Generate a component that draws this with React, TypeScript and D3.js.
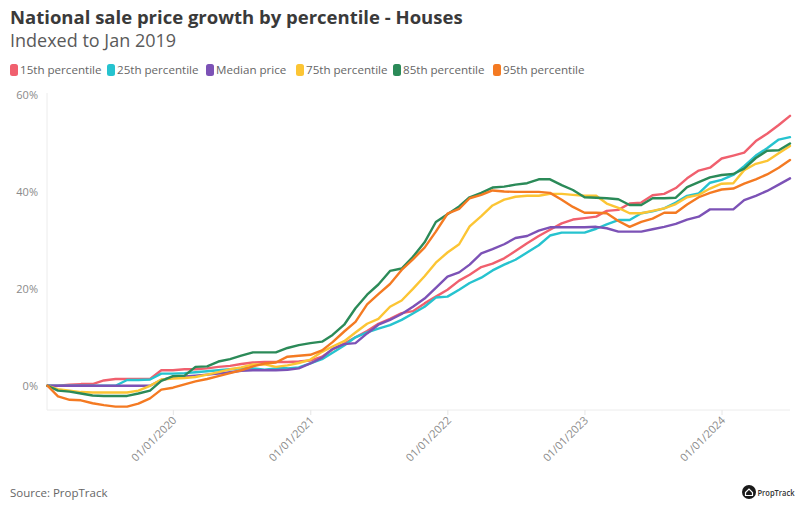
import React from 'react';
import * as d3 from 'd3';

const seriesNames = ['15th percentile', '25th percentile', 'Median price', '75th percentile', '85th percentile', '95th percentile'];
const seriesColors = ['#f0606e', '#26c3cf', '#7c52b6', '#fcc534', '#2b8a58', '#f47a22'];

// Month-end observations, Jan 2019 .. Jun 2024 (percent change since Jan 2019)
const p15 = [0, 0, 0.2, 0.35, 0.35, 1.1, 1.4, 1.4, 1.4, 1.4, 3.2, 3.2,
  3.4, 3.4, 3.6, 3.9, 4.1, 4.5, 4.8, 4.9, 4.9, 4.9, 5.0, 5.2,
  6.0, 7.5, 8.7, 10.0, 11.3, 12.8, 13.8, 15.0, 15.4, 17.0, 18.4, 19.8,
  21.7, 22.9, 24.5, 25.2, 26.3, 27.8, 29.4, 30.9, 32.2, 33.5, 34.3, 34.6,
  34.9, 36.1, 36.3, 37.6, 37.8, 39.3, 39.6, 40.8, 42.8, 44.4, 45.0, 46.9,
  47.5, 48.1, 50.5, 52.0, 53.8, 55.7];
const p25 = [0, 0, 0, 0, 0, 0, 0, 1.2, 1.2, 1.3, 2.5, 2.5,
  2.6, 2.8, 3.0, 3.2, 3.4, 3.6, 3.6, 3.3, 3.6, 3.6, 3.8, 4.6,
  5.5, 6.8, 8.3, 10.0, 11.0, 11.8, 12.5, 13.6, 14.9, 16.3, 18.2, 18.4,
  19.8, 21.2, 22.3, 23.8, 25.0, 26.0, 27.5, 29.0, 31.0, 31.6, 31.6, 31.6,
  32.4, 33.3, 34.2, 34.2, 35.6, 36.0, 36.6, 37.8, 39.2, 39.7, 41.9, 42.5,
  43.5, 45.3, 47.5, 49.0, 50.8, 51.3];
const median = [0, 0, 0, 0, 0, 0, 0, 0, 0, 0, 1.2, 1.7,
  1.9, 2.1, 2.3, 2.5, 2.8, 3.1, 3.2, 3.2, 3.2, 3.3, 3.6, 4.6,
  5.8, 7.6, 8.6, 8.8, 10.8, 12.6, 13.6, 14.8, 16.3, 18.0, 20.2, 22.5,
  23.4, 25.0, 27.3, 28.2, 29.2, 30.5, 30.9, 32.0, 32.7, 32.7, 32.7, 32.7,
  32.8, 32.5, 31.8, 31.8, 31.8, 32.3, 32.8, 33.4, 34.3, 34.9, 36.4, 36.4,
  36.4, 38.3, 39.2, 40.2, 41.5, 42.8];
const p75 = [0, -0.7, -1.0, -1.3, -1.4, -1.4, -1.4, -1.4, -1.0, 0.0, 1.3, 1.5,
  1.6, 1.8, 2.3, 2.8, 3.4, 3.8, 4.4, 4.4, 3.9, 4.2, 4.7, 5.4,
  7.0, 8.1, 9.2, 11.0, 12.8, 13.8, 16.3, 17.6, 20.0, 22.6, 25.4, 27.5,
  29.2, 32.9, 35.0, 37.2, 38.4, 39.0, 39.2, 39.2, 39.6, 39.6, 39.4, 39.2,
  39.2, 37.6, 36.7, 35.6, 35.6, 36.1, 36.6, 37.5, 38.9, 39.4, 40.7, 41.7,
  41.8, 44.5, 45.8, 46.4, 48.0, 49.5];
const p85 = [0, -1.0, -1.2, -1.6, -2.0, -2.1, -2.1, -2.1, -1.6, -1.0, 1.0, 2.0,
  2.1, 3.9, 4.0, 5.0, 5.5, 6.2, 6.9, 6.9, 6.9, 7.8, 8.4, 8.8,
  9.1, 10.5, 12.6, 16.0, 18.8, 20.9, 23.7, 24.2, 26.6, 29.6, 33.8, 35.4,
  37.0, 38.9, 39.8, 40.9, 41.1, 41.5, 41.8, 42.6, 42.6, 41.4, 40.4, 38.9,
  38.8, 38.7, 38.5, 37.3, 37.3, 38.7, 38.7, 38.8, 41.0, 42.0, 43.0, 43.5,
  43.7, 44.8, 47.0, 48.5, 48.6, 50.0];
const p95 = [0, -2.2, -2.9, -3.0, -3.6, -4.0, -4.3, -4.3, -3.7, -2.6, -0.8, -0.4,
  0.3, 0.9, 1.4, 2.0, 2.6, 3.2, 4.0, 4.6, 4.8, 6.0, 6.2, 6.4,
  7.3, 9.0, 11.2, 13.2, 16.8, 18.9, 21.0, 23.9, 26.1, 28.5, 31.8, 35.5,
  36.5, 38.7, 39.4, 40.3, 40.1, 40.0, 40.0, 40.0, 39.8, 38.4, 36.9, 35.7,
  35.7, 35.6, 34.0, 32.8, 33.8, 34.5, 35.7, 35.7, 37.4, 38.9, 39.8, 40.5,
  40.7, 41.7, 42.6, 43.6, 45.0, 46.6];

const seriesValues = [p15, p25, median, p75, p85, p95];

// Month-end dates: Jan 31 2019 .. Jun 30 2024
const dates = d3.timeMonth
  .range(new Date(2019, 1, 1), new Date(2024, 7, 1))
  .map((d) => d3.timeDay.offset(d, -1));

const yTicks = [0, 20, 40, 60];
const xTicks = [2020, 2021, 2022, 2023, 2024].map((y) => new Date(y, 0, 1));
const legendX = [10, 107, 206, 296, 393, 493];

const W = 800;
const H = 520;
const FONT = "'Open Sans', 'DejaVu Sans', sans-serif";

export default function App() {
  const x = d3.scaleTime().domain([dates[0], dates[dates.length - 1]]).range([47.5, 790]);
  const y = d3.scaleLinear().domain([-5, 60]).range([410, 95]);
  const fmt = d3.timeFormat('%d/%m/%Y');
  const line = d3
    .line<number>()
    .x((_, i) => x(dates[i]))
    .y((v) => y(v));

  return (
    <svg width={W} height={H} style={{ position: 'absolute', left: 0, top: 0, background: '#fff' }} fontFamily={FONT}>
      <rect x={0} y={0} width={W} height={H} fill="#fff" />
      <text x={10} y={24} fontSize={18.5} fontWeight={700} fill="#3a3a3a">
        National sale price growth by percentile - Houses
      </text>
      <text x={10} y={47} fontSize={18} fontWeight={400} fill="#5a5a5a">
        Indexed to Jan 2019
      </text>

      {seriesNames.map((n, i) => (
        <g key={n} transform={`translate(${legendX[i]},0)`}>
          <rect x={0} y={64} width={8} height={12} rx={2.5} fill={seriesColors[i]} />
          <text x={10} y={74} fontSize={11.6} fill="#666">
            {n}
          </text>
        </g>
      ))}

      {/* axes */}
      <line x1={47} x2={47} y1={93} y2={410} stroke="#ececec" strokeWidth={1} />
      <line x1={47} x2={790} y1={410} y2={410} stroke="#ececec" strokeWidth={1} />
      {yTicks.map((t) => (
        <text key={t} x={38} y={y(t)} dy="0.35em" textAnchor="end" fontSize={11} fill="#8a8a8a">
          {t}%
        </text>
      ))}
      {xTicks.map((t) => (
        <g key={+t}>
          <line x1={x(t)} x2={x(t)} y1={410} y2={415} stroke="#e6e6e6" />
          <text
            transform={`translate(${x(t) + 4},${421}) rotate(-45)`}
            textAnchor="end"
            fontSize={11}
            fill="#8a8a8a"
          >
            {fmt(t)}
          </text>
        </g>
      ))}

      {seriesValues.map((vals, i) => (
        <path
          key={seriesNames[i]}
          d={line(vals) || ''}
          fill="none"
          stroke={seriesColors[i]}
          strokeWidth={2.4}
          strokeLinejoin="round"
          strokeLinecap="round"
        />
      ))}

      <text x={10} y={497} fontSize={11.5} fill="#666">
        Source: PropTrack
      </text>
      <g transform="translate(749,492)">
        <circle r={7} fill="#1a1a1a" />
        <path d="M-3.5,0.5 L0,-3 L3.5,0.5 L3.5,3.5 L-3.5,3.5 Z" fill="none" stroke="#fff" strokeWidth={1.2} />
      </g>
      <text x={757.5} y={495.5} fontSize={8.6} fontWeight={600} fill="#333" textLength={37} lengthAdjust="spacingAndGlyphs">
        PropTrack
      </text>
    </svg>
  );
}
